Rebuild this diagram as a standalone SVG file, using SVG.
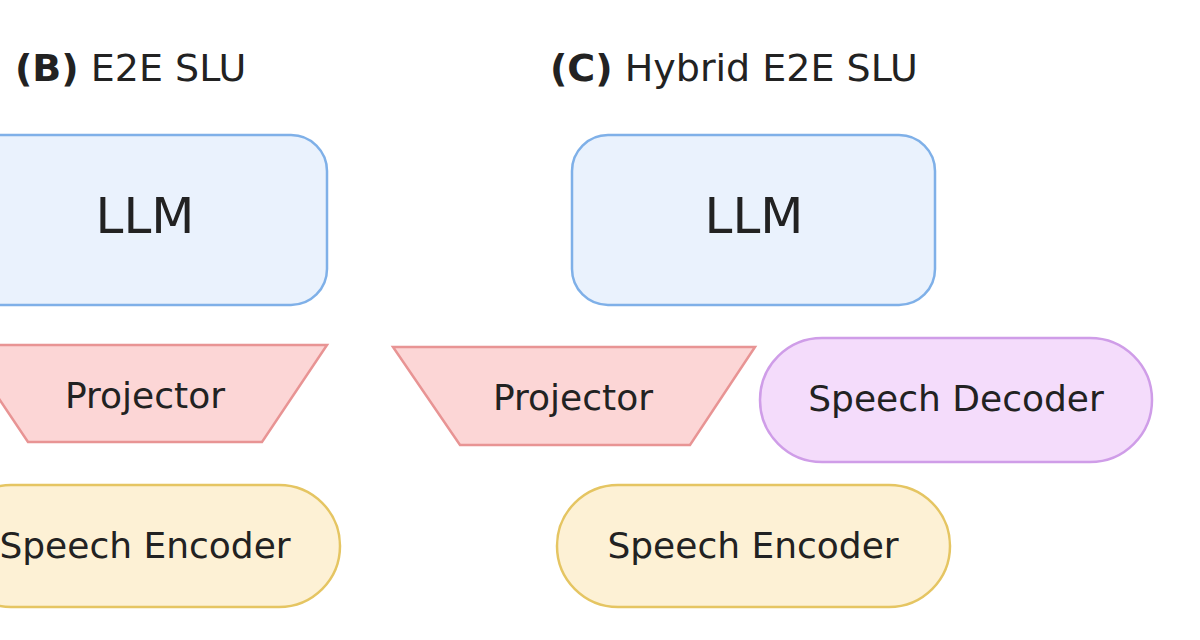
<svg xmlns="http://www.w3.org/2000/svg" width="1200" height="640" viewBox="0 0 1200 640">
<style>
text{font-family:"DejaVu Sans","Noto Sans",sans-serif;fill:#222;text-anchor:middle;dominant-baseline:central}
.t{font-size:38px;text-anchor:start}
.llm{fill:#eaf2fd;stroke:#7fb0e8;stroke-width:2.5}
.proj{fill:#fcd6d6;stroke:#e89494;stroke-width:2.5}
.enc{fill:#fdf1d5;stroke:#e5c562;stroke-width:2.5}
.dec{fill:#f4dcfb;stroke:#cf9de8;stroke-width:2.5}
.big{font-size:50px}
.m{font-size:36px}
</style>
<rect width="1200" height="640" fill="#fff"/>
<text class="t" x="15" y="68"><tspan font-weight="bold">(B)</tspan> E2E SLU</text>
<text class="t" x="550" y="68"><tspan font-weight="bold">(C)</tspan> Hybrid E2E SLU</text>
<g id="llmB"><rect class="llm" x="-40" y="135" width="367" height="170" rx="36"/><text class="big" x="145" y="216">LLM</text></g>
<g id="llmC"><rect class="llm" x="572" y="135" width="363" height="170" rx="36"/><text class="big" x="754" y="216">LLM</text></g>
<g id="projB"><polygon class="proj" points="-37,345 327,345 262,442 28,442"/><text class="m" x="145" y="395">Projector</text></g>
<g id="projC"><polygon class="proj" points="393,347 755,347 690,445 460,445"/><text class="m" x="573" y="397">Projector</text></g>
<g id="dec"><rect class="dec" x="760" y="338" width="392" height="124" rx="62"/><text class="m" x="956" y="398">Speech Decoder</text></g>
<g id="encB"><rect class="enc" x="-50" y="485" width="390" height="122" rx="61"/><text class="m" x="145" y="545">Speech Encoder</text></g>
<g id="encC"><rect class="enc" x="557" y="485" width="393" height="122" rx="61"/><text class="m" x="753" y="545">Speech Encoder</text></g>
<g id="connectors"/>
</svg>
